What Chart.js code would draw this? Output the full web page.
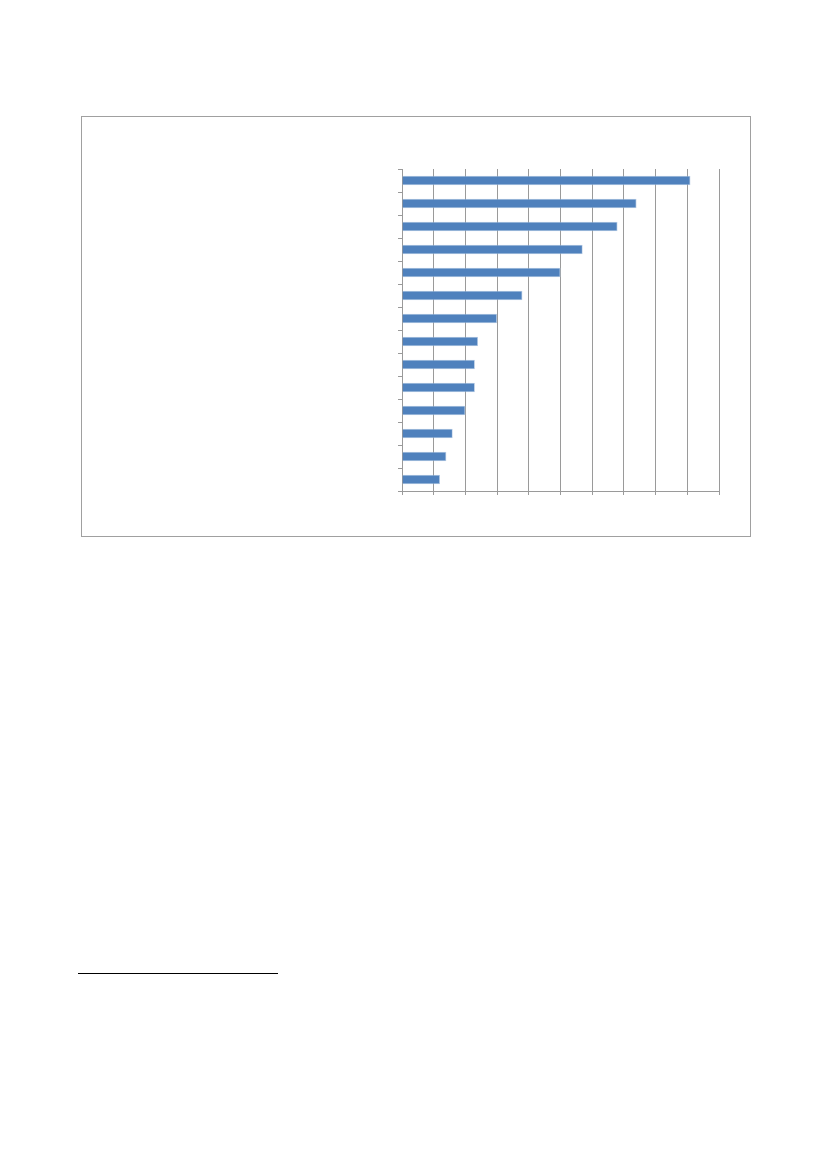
<!DOCTYPE html>
<html>
<head>
<meta charset="utf-8">
<script src="https://cdn.jsdelivr.net/npm/chart.js@4.4.0/dist/chart.umd.min.js"></script>
<style>
    body { margin: 0; background: #fff; }
    #frame {
        position: absolute; left: 81px; top: 116px;
        width: 668px; height: 419px;
        border: 1px solid #a0a0a0;
    }
    #footLine {
        position: absolute; left: 78px; top: 973px;
        width: 200px; height: 0; border-top: 1.5px solid #000;
    }
</style>
</head>
<body>
<div id="frame"><canvas id="myBarChart"></canvas></div>
<div id="footLine"></div>
<script>
// categories have no visible labels in the picture
const categories = ['1', '2', '3', '4', '5', '6', '7', '8', '9', '10', '11', '12', '13', '14'];
const values = [91, 74, 68, 57, 50, 38, 30, 24, 23, 23, 20, 16, 14, 12];
const xMin = 0;
const xMax = 100;
const xStep = 10;

const canvas = document.querySelector('#myBarChart');
canvas.width = 668;
canvas.height = 419;

const config = {
    type: 'bar',
    data: {
        labels: categories,
        datasets: [{
            data: values,
            backgroundColor: '#4f81bd',
            borderColor: '#b9cde5',
            borderWidth: 0.8,
            categoryPercentage: 1,
            barPercentage: 0.42
        }]
    },
    options: {
        indexAxis: 'y',
        responsive: false,
        animation: false,
        layout: {
            padding: { left: 316, right: 31, top: 52, bottom: 41 }
        },
        plugins: {
            legend: { display: false },
            tooltip: { enabled: false }
        },
        scales: {
            x: {
                min: xMin,
                max: xMax,
                ticks: { stepSize: xStep, display: false },
                grid: { color: '#9a9a9a', lineWidth: 1, drawTicks: true, tickLength: 4 },
                border: { color: '#9a9a9a' }
            },
            y: {
                offset: true,
                ticks: { display: false },
                grid: { offset: true, drawOnChartArea: false, drawTicks: true, tickLength: 4, color: '#9a9a9a' },
                border: { color: '#9a9a9a' }
            }
        }
    }
};
new Chart(canvas, config);
</script>
</body>
</html>
